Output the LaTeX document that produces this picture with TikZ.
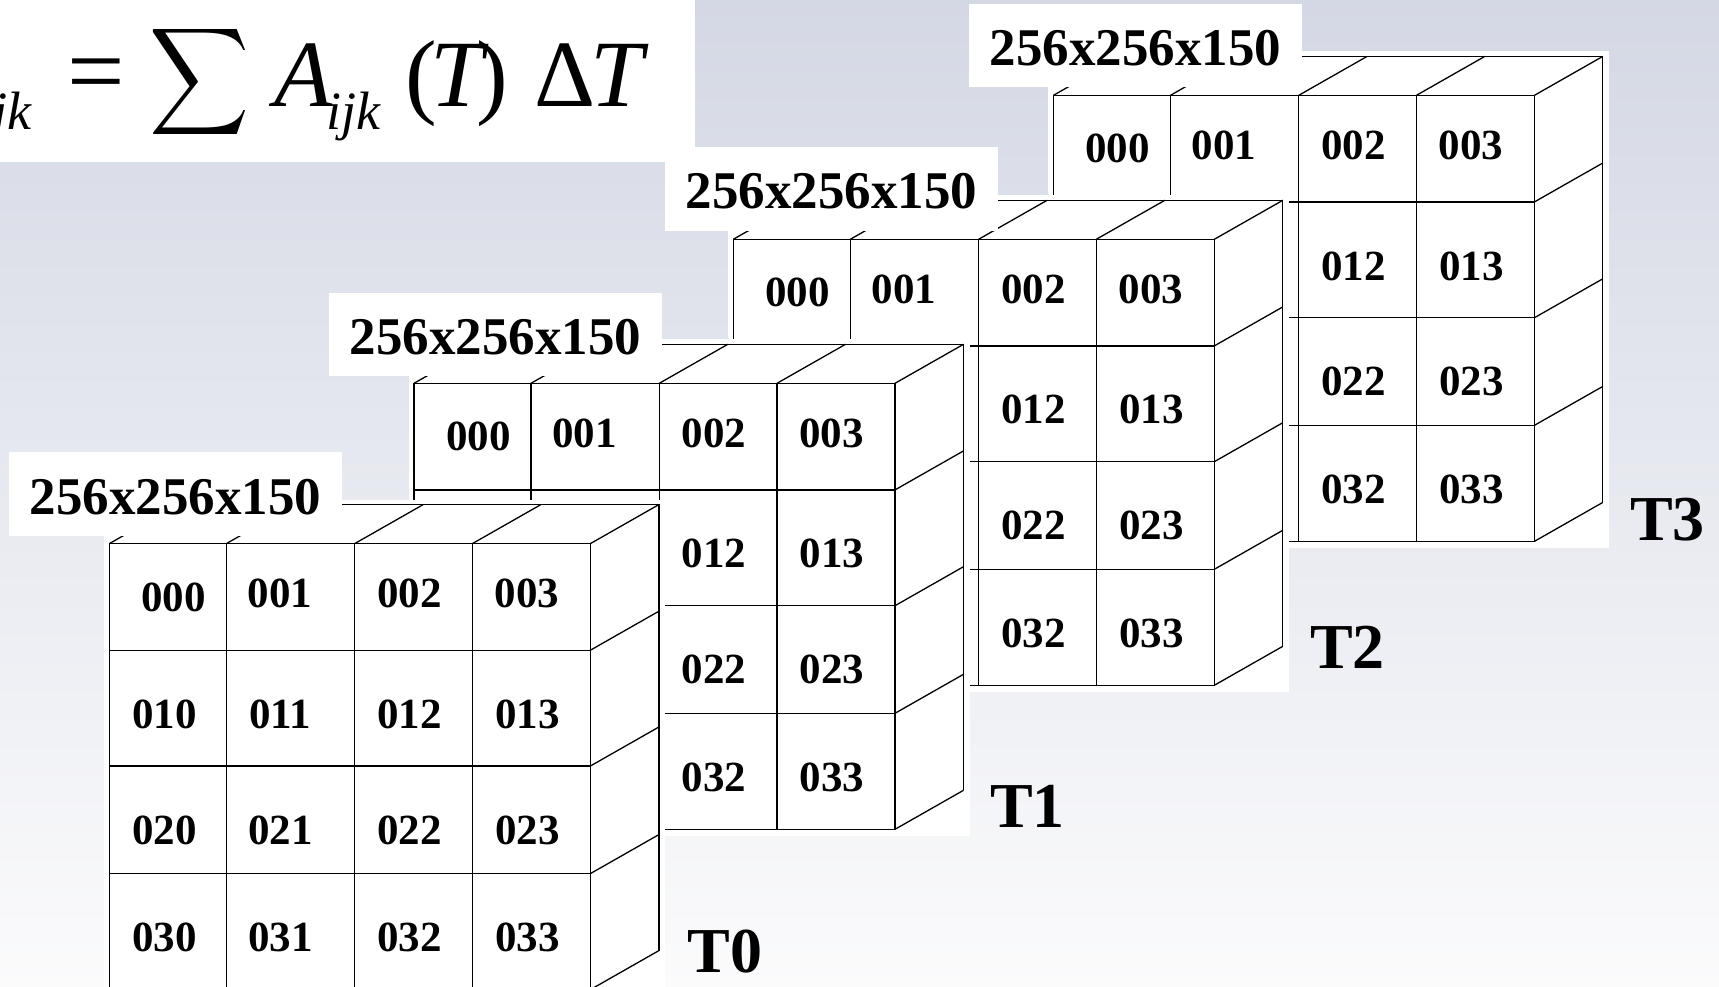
\documentclass[tikz,border=0pt]{standalone}
\usepackage{fontspec}
\setmainfont{Liberation Serif}
\usepackage{graphicx}
\usetikzlibrary{positioning}
\definecolor{slidetop}{RGB}{212,216,228}
\definecolor{slidebottom}{RGB}{251,251,252}

% one 4x4 block: name, front top-left x, y
% (cells 010..031 are only drawn for the front block, the others hide them)
\newcommand{\volcube}[3]{%
  \begin{scope}[shift={(#2,#3)}]
    \fill[white] (-5,-44) rectangle (556,452.5);
    \draw[cubeline] (0,0) rectangle (481,446);
    \foreach \cx in {117,245.3,363} \draw[cubeline] (\cx,0) -- (\cx,446);
    \foreach \ry in {106.6,222.4,330} \draw[cubeline] (0,\ry) -- (481,\ry);
    \foreach \cx in {0,117,245.3,363,481} \draw[cubeline] (\cx,0) -- ++(68.5,-39);
    \foreach \ry in {106.6,222.4,330,446} \draw[cubeline] (481,\ry) -- ++(68.5,-39);
    \draw[cubeline] (68.5,-39) -- (549.5,-39) -- (549.5,407);
    \node[cell] (#1-00) at (64.3,67.5) {000};
    \foreach \c/\cx in {1/170.6,2/300,3/417.5}
      \node[cell] (#1-0\c) at (\cx,64) {00\c};
    \foreach \r/\by in {1/184.6,2/300.4,3/408}
      \foreach \c/\cx in {2/300,3/418}
        \node[cell] (#1-\r\c) at (\cx,\by) {0\r\c};
  \end{scope}}

\begin{document}
\begin{tikzpicture}[x=1pt,y=-1pt,
    cubeline/.style={line width=1.3pt, black},
    cell/.style={anchor=base, inner sep=0pt, font=\fontsize{43}{43}\selectfont\bfseries},
    sizebox/.style={anchor=north west, fill=white, minimum width=333pt, minimum height=83.5pt,
      inner xsep=20pt, text height=40pt, text depth=0pt, font=\fontsize{53}{53}\selectfont\bfseries},
    tlabel/.style={anchor=base west, inner sep=0pt, font=\fontsize{64}{64}\selectfont\bfseries},
    eqpart/.style={anchor=base west, inner sep=0pt, font=\fontsize{95}{95}\selectfont},
    eqital/.style={eqpart, font=\fontsize{95}{95}\selectfont\itshape},
    eqsub/.style={anchor=base west, inner sep=0pt, font=\fontsize{54}{54}\selectfont\itshape}
]
\useasboundingbox (0,0) rectangle (1719,987);
\clip (0,0) rectangle (1719,987);
\shade[top color=slidetop, bottom color=slidebottom] (0,0) rectangle (1719,987);

% formula
\fill[white] (0,0) rectangle (695,161.7);
\node[eqsub, anchor=base east] (fsub) at (32,129.5) {ijk};
\node[inner sep=0pt, font=\fontsize{102}{102}\selectfont] (feq) at (96,82) {=};
\node[inner sep=0pt] (fsum) at (200,82) {\resizebox*{100pt}{120pt}{$\displaystyle\sum$}};
\node[eqital] (fa) at (274,106.7) {A};
\node[eqsub] (fsuba) at (326,129.5) {ijk};
\node[eqpart] (flp) at (405,106.7) {(};
\node[eqital] (fta) at (430,106.7) {T};
\node[eqpart] (frp) at (476,106.7) {)};
\node[eqpart] (fdelta) at (534,106.7) {Δ};
\node[eqital] (ftb) at (590,106.7) {T};

% T3 at the back
\volcube{c3}{1053.3}{95.4}
\node[sizebox] (s3) at (968.6,3.6) {256x256x150};
\node[tlabel] (t3) at (1630,540) {T3};

% T2
\volcube{c2}{733.3}{239.3}
\node[sizebox] (s2) at (665,147) {256x256x150};
\node[tlabel] (t2) at (1310,668.3) {T2};

% T1
\volcube{c1}{414}{383.3}
\node[sizebox] (s1) at (329,292.3) {256x256x150};
\node[tlabel] (t1) at (990,827.7) {T1};

% T0 in front
\volcube{c0}{109.4}{543.6}
\foreach \r/\by in {1/184.6,2/300.4,3/408}
  \foreach \c/\cx in {0/55,1/171}
    \node[cell] (c0-\r\c) at (109.4+\cx,543.6+\by) {0\r\c};
\node[sizebox] (s0) at (8.9,452.2) {256x256x150};
\node[tlabel] (t0) at (687.3,972.7) {T0};
\end{tikzpicture}
\end{document}
